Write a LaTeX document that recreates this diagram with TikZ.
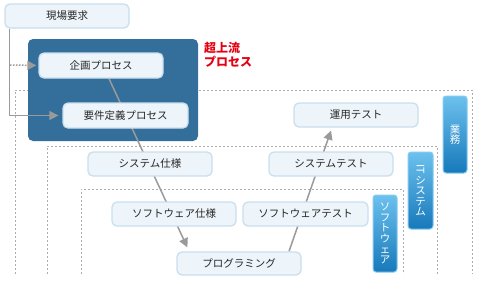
\documentclass[tikz,border=0pt]{standalone}
\usepackage{fontspec}
\usepackage{graphicx}
\newfontfamily\jp{Noto Sans CJK JP}
\usetikzlibrary{arrows.meta,backgrounds}
\definecolor{nodefill}{HTML}{EEF5FA}
\definecolor{nodeline}{HTML}{C9DFEE}
\definecolor{darkbox}{HTML}{346F9B}
\definecolor{conncol}{HTML}{9A9A9A}
\definecolor{dotcol}{HTML}{ADADAD}
\definecolor{redtxt}{HTML}{E60012}
\definecolor{labtop}{HTML}{6CC1EE}
\definecolor{labbot}{HTML}{1779BA}
\definecolor{labline}{HTML}{86CBEF}
\pgfdeclarelayer{bg}
\pgfdeclarelayer{lines}
\pgfsetlayers{bg,lines,main}
\tikzset{
  procbox/.style={draw=nodeline, line width=1.3pt, fill=nodefill, rounded corners=5pt,
    minimum width=124pt, minimum height=24pt, inner sep=0pt,
    font=\jp\fontsize{10.5}{12}\selectfont, text=black!85},
  vlabel/.style={draw=labline, line width=1pt, top color=labtop, bottom color=labbot,
    rounded corners=3pt, minimum width=24pt, minimum height=77pt, inner sep=0pt,
    align=center, text=white, font=\jp\fontsize{10.5}{10.6}\selectfont},
  conn/.style={draw=conncol, line width=1.5pt, -{Triangle[length=9pt,width=9pt]}},
  dotconn/.style={draw=conncol, line width=1.5pt, dash pattern=on 1.5pt off 1.5pt,
    -{Triangle[length=9pt,width=9pt,fill=conncol]}},
  area/.style={draw=dotcol, line width=0.8pt, dash pattern=on 2pt off 2pt},
}
\begin{document}
\begin{tikzpicture}[x=1pt,y=-1pt]
\useasboundingbox (0,0) rectangle (478,282);
% nodes
\node[procbox] (genba) at (67,16) {現場要求};
\node[procbox, minimum height=25pt] (kikaku) at (101,65.5) {企画プロセス};
\node[procbox, minimum height=25pt, minimum width=125pt] (yoken) at (125.5,115.5) {要件定義プロセス};
\node[procbox] (syssp) at (150,164) {システム仕様};
\node[procbox] (swsp) at (174,214) {ソフトウェア仕様};
\node[procbox, minimum height=23pt] (prog) at (239,263.5) {プログラミング};
\node[procbox] (unyo) at (356,115) {運用テスト};
\node[procbox] (systest) at (331,164) {システムテスト};
\node[procbox, minimum width=125pt] (swtest) at (305.5,214) {ソフトウェアテスト};
% vertical labels
\node[vlabel] (gyomu) at (455,134.5) {業\\務};
\node[vlabel, minimum width=25pt] (itsys) at (420.5,190.5) {\rotatebox{-90}{IT}\\[1pt]シ\\ス\\テ\\ム};
\node[vlabel] (swlab) at (385,233.5) {ソ\\フ\\ト\\ウ\\ェ\\ア};
% red title
\node[anchor=north west, inner sep=0pt, align=left, text=redtxt,
  font=\jp\bfseries\fontsize{12}{14}\selectfont] (title) at (204,42) {超上流\\プロセス};
\begin{pgfonlayer}{bg}
  \fill[white] (0,0) rectangle (478,282);
  \draw[area] (15,274) -- (15,90) -- (472,90) -- (472,274);
  \draw[area] (47,274) -- (47,146) -- (437,146) -- (437,274);
  \draw[area] (81,274) -- (81,189) -- (403,189) -- (403,274);
  \node[fill=darkbox, rounded corners=5pt, minimum width=170pt, minimum height=102pt,
    inner sep=0pt] (upper) at (113,90) {};
\end{pgfonlayer}
\begin{pgfonlayer}{lines}
  \coordinate (branch) at (10,65);
  \draw[conn, shorten >=4pt] ([xshift=5pt]genba.south west) |- (yoken.west);
  \draw[dotconn, shorten >=2pt] (branch) -- (kikaku.west);
  \draw[conn] ([xshift=8pt]kikaku.south) -- ([xshift=11pt,yshift=4pt]prog.north west);
  \draw[conn] ([xshift=50pt]prog.north) -- ([xshift=-25pt,yshift=-3pt]unyo.south);
\end{pgfonlayer}
\end{tikzpicture}
\end{document}
